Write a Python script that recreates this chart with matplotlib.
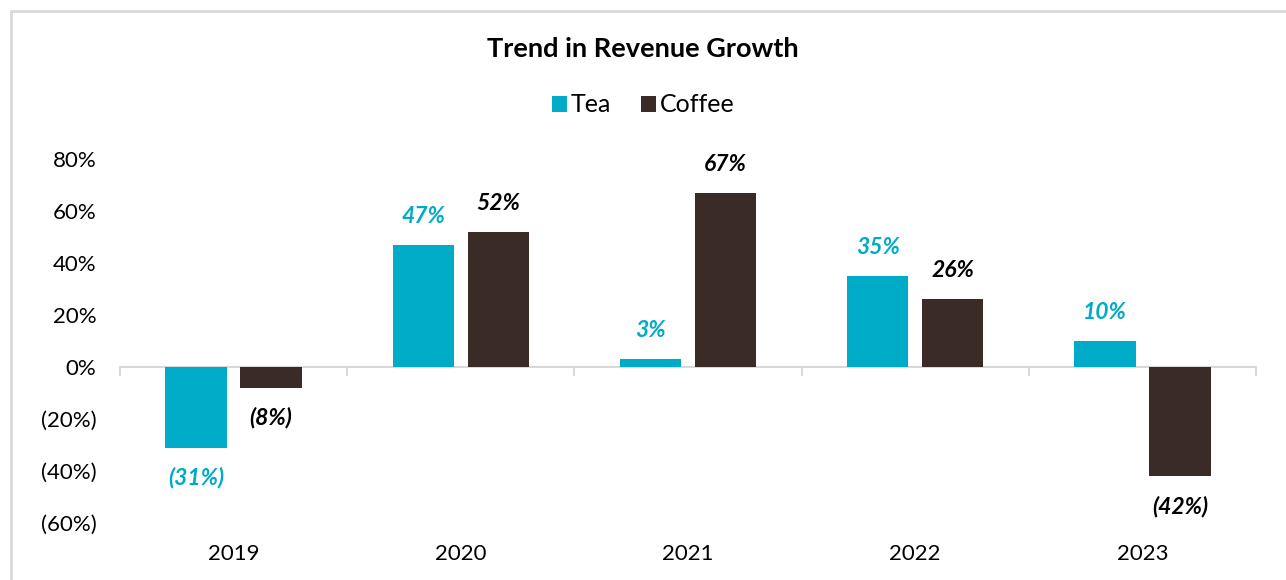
import matplotlib
matplotlib.use("Agg")
import matplotlib.pyplot as plt
from matplotlib.patches import Rectangle
import numpy as np

years = ["2019", "2020", "2021", "2022", "2023"]
tea = [-31, 47, 3, 35, 10]
coffee = [-8, 52, 67, 26, -42]
y_ticks = [-60, -40, -20, 0, 20, 40, 60, 80]

TEA_COLOR = "#00ABC7"
COFFEE_COLOR = "#3B2B27"
GRID_GRAY = "#D9D9D9"

plt.rcParams["font.family"] = ["Lato", "DejaVu Sans"]

fig = plt.figure(figsize=(12.86, 5.80), dpi=100)
W, H = 1286, 580

# Chart frame
fig.patches.append(Rectangle((11 / W, -0.1), 1.2, 1 - 11 / H + 0.1,
                             transform=fig.transFigure, fill=False,
                             edgecolor=GRID_GRAY, linewidth=2))

ax = fig.add_axes([120 / W, 1 - 523 / H, (1256 - 120) / W, (523 - 159) / H])

x = np.arange(len(years))
bw = 0.27
off = 0.165
ax.bar(x - off, tea, bw, color=TEA_COLOR, label="Tea", zorder=3)
ax.bar(x + off, coffee, bw, color=COFFEE_COLOR, label="Coffee", zorder=3)

def pct(v):
    return f"({abs(v)}%)" if v < 0 else f"{v}%"

def label_bars(xs, vals, color):
    for xi, v in zip(xs, vals):
        ax.annotate(pct(v), (xi, v), xytext=(0, 13 if v >= 0 else -14),
                    textcoords="offset points", ha="center",
                    va="bottom" if v >= 0 else "top", color=color,
                    fontsize=16.5, fontweight="bold", style="italic",
                    clip_on=False)

label_bars(x - off, tea, TEA_COLOR)
label_bars(x + off, coffee, "black")

ax.set_xlim(-0.5, len(years) - 0.5)
ax.set_ylim(-60, 80)
ax.set_yticks(y_ticks)
ax.set_yticklabels([pct(t) for t in y_ticks], fontsize=16)
ax.tick_params(axis="y", length=0, pad=17)

# Category axis at zero with boundary ticks
ax.axhline(0, color=GRID_GRAY, linewidth=1.5, zorder=2)
for b in np.arange(-0.5, len(years), 1.0):
    ax.plot([b, b], [0, -3], color=GRID_GRAY, linewidth=1.5, zorder=2,
            clip_on=False)
ax.set_xticks(x)
ax.set_xticklabels(years, fontsize=16)
ax.tick_params(axis="x", length=0, pad=15)

for s in ax.spines.values():
    s.set_visible(False)

fig.text(0.5, 1 - 49 / H, "Trend in Revenue Growth", ha="center", va="center",
         fontsize=19.5, fontweight="bold")
fig.legend(loc="center", bbox_to_anchor=(0.5, 1 - 105 / H), ncol=2,
           frameon=False, fontsize=18, handlelength=0.6, handleheight=0.6,
           handletextpad=0.15, columnspacing=1.2)

fig.savefig("out.png", dpi=100)
